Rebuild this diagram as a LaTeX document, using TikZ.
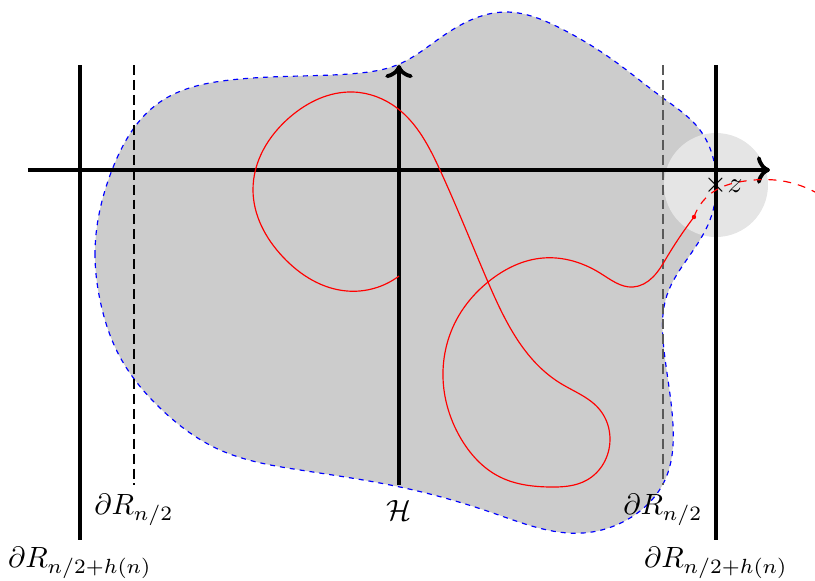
\documentclass[tikz,border=0pt]{standalone}
\usetikzlibrary{arrows.meta, hobby}
\begin{document}
\begin{tikzpicture}[x=0.012cm, y=-0.012cm,
  wall/.style={line width=1.3pt},
  halfline/.style={dash pattern=on 3.4pt off 1.7pt, thin},
  axis/.style={line width=1.3pt, ->},
  blob/.style={blue, dash pattern=on 1.7pt off 1.7pt, thin},
  walk/.style={red, thin},
]
\useasboundingbox (0,0) rectangle (815,580);

\fill[gray!40] plot[closed hobby] coordinates {
  (95,255) (112,170) (160,102) (230,80) (300,76) (360,73) (397,65) (440,38)
  (505,12) (560,28) (613,60) (663,98) (700,130) (716,175) (710,220) (690,255)
  (667,295) (664,350) (673,425) (665,480) (630,518) (583,533) (493,513)
  (400,487) (300,470) (220,450) (160,408) (120,357) (100,300)};
\coordinate (z) at (716,185);
\fill[gray!20] (z) circle (52);
\draw[blob] plot[closed hobby] coordinates {
  (95,255) (112,170) (160,102) (230,80) (300,76) (360,73) (397,65) (440,38)
  (505,12) (560,28) (613,60) (663,98) (700,130) (716,175) (710,220) (690,255)
  (667,295) (664,350) (673,425) (665,480) (630,518) (583,533) (493,513)
  (400,487) (300,470) (220,450) (160,408) (120,357) (100,300)};

\coordinate (xl) at (28,170);
\coordinate (xr) at (770,170);
\coordinate (yb) at (399,485);
\coordinate (yt) at (399,65);

\draw[wall] (80,65) -- (80,540);
\draw[wall] (716,65) -- (716,540);
\draw[halfline] (134,65) -- (134,485);
\draw[halfline, black!65, semithick] (663,65) -- (663,485);
\draw[axis] (xl) -- (xr);
\draw[axis] (yb) -- (yt);

\node (hl) at (134,510) {$\partial R_{n/2}$};
\node (hr) at (663,510) {$\partial R_{n/2}$};
\node (H) at (399,510) {$\mathcal{H}$};
\node (wl) at (80,563) {$\partial R_{n/2+h(n)}$};
\node (wr) at (716,563) {$\partial R_{n/2+h(n)}$};

\draw[walk] plot[hobby] coordinates {
  (399,276) (347,291) (283,257) (253,190) (290,117) (353,92) (397,108)
  (440,170) (488,282) (560,383) (600,410) (610,440) (587,480) (550,487)
  (500,477) (460,437) (443,377) (458,317) (488,282) (543,258) (600,273)
  (633,287) (653,277) (667,257) (694,217)};
\fill[red] (694,217) circle (2.2) coordinate (tip);
\draw[walk, dash pattern=on 2.7pt off 2.4pt] plot[hobby] coordinates {
  (694,217) (716,190) (745,181) (775,180) (815,192)};

\node[inner sep=0pt] (zx) at (z) {$\times$};
\node[anchor=west, inner sep=1pt] (zl) at (724,186) {$z$};
\end{tikzpicture}
\end{document}
